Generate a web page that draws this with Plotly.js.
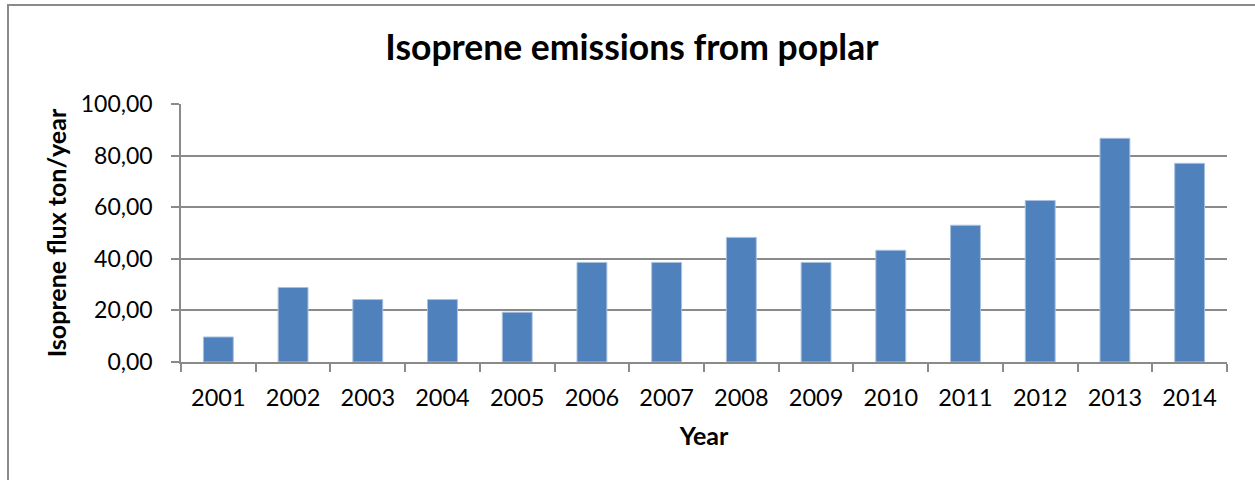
<!DOCTYPE html>
<html>
<head>
<meta charset="utf-8">
<script src="https://cdn.plot.ly/plotly-3.0.1.min.js"></script>
<style>
  html, body { margin: 0; padding: 0; background: #fff; }
  #wrap { position: relative; width: 1255px; height: 480px; }
  #chart { width: 1255px; height: 480px; }
  #frame { position: absolute; left: 7px; top: 4px; right: 0; bottom: 0;
           border-left: 2px solid #8a8a8a; border-top: 2px solid #8a8a8a; pointer-events: none; }
</style>
</head>
<body>
<div id="wrap">
  <div id="chart"></div>
  <div id="frame"></div>
</div>
<script>
const years = ['2001','2002','2003','2004','2005','2006','2007','2008','2009','2010','2011','2012','2013','2014'];
const flux = [9.7, 28.9, 24.2, 24.2, 19.3, 38.6, 38.6, 48.3, 38.6, 43.3, 53.0, 62.6, 86.7, 77.0];
const yTicks = [0, 20, 40, 60, 80, 100];

const trace = {
  type: 'bar',
  x: years,
  y: flux,
  marker: { color: '#4F81BD', line: { color: '#a9c1e0', width: 1 } },
  hoverinfo: 'x+y'
};

const fontFam = 'Lato, "Open Sans", sans-serif';
const grey = '#8a8a8a';

const layout = {
  width: 1255,
  height: 480,
  paper_bgcolor: 'rgba(0,0,0,0)',
  plot_bgcolor: '#ffffff',
  separators: ', ',
  margin: { l: 181, r: 28, t: 104, b: 118, pad: 0 },
  bargap: 0.6,
  showlegend: false,
  font: { family: fontFam, color: '#000' },
  title: {
    text: '<b>Isoprene emissions from poplar</b>',
    font: { family: fontFam, size: 35.5, color: '#000' },
    x: 0.5035, xanchor: 'center', y: 0.9, yanchor: 'middle', yref: 'container'
  },
  xaxis: {
    type: 'category',
    showgrid: false,
    showline: true, linecolor: grey, linewidth: 1.5,
    ticks: 'outside', tickson: 'boundaries', ticklen: 8, tickcolor: grey, tickwidth: 1.5,
    tickfont: { family: fontFam, size: 23.5, color: '#000' },
    ticklabelstandoff: 14,
    title: { text: '<b>Year</b>', font: { family: fontFam, size: 25, color: '#000' }, standoff: 18 }
  },
  yaxis: {
    range: [0, 100],
    tickvals: yTicks,
    tickformat: '.2f',
    showgrid: true, gridcolor: grey, gridwidth: 1.5,
    zeroline: false,
    showline: true, linecolor: grey, linewidth: 1.5,
    ticks: 'outside', ticklen: 8, tickcolor: grey, tickwidth: 1.5,
    tickfont: { family: fontFam, size: 23, color: '#000' },
    ticklabelstandoff: 14,
    title: { text: '<b>Isoprene flux ton/year</b>', font: { family: fontFam, size: 25, color: '#000' }, standoff: 7 }
  }
};

Plotly.newPlot('chart', [trace], layout, { displayModeBar: false, responsive: false });
</script>
</body>
</html>
